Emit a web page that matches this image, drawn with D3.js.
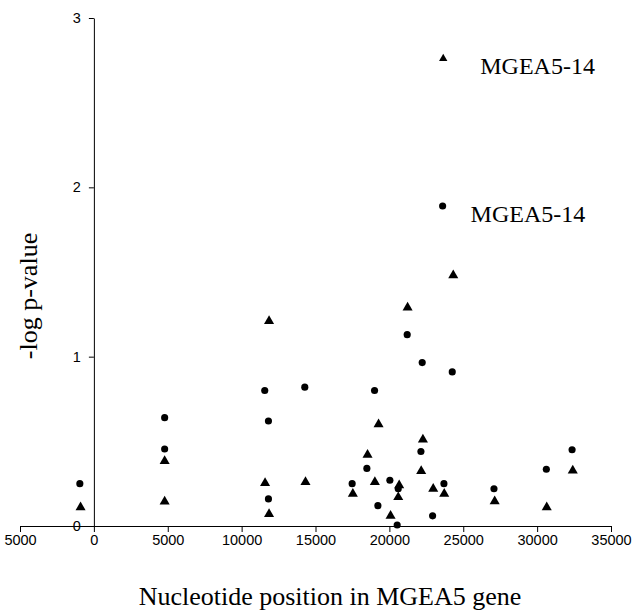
<!DOCTYPE html>
<html>
<head>
<meta charset="utf-8">
<script src="https://cdn.jsdelivr.net/npm/d3@7.9.0/dist/d3.min.js"></script>
<style>
  html, body { margin: 0; padding: 0; background: #fff; }
  .tick text { font-family: "Liberation Sans", Arial, sans-serif; font-size: 14.5px; fill: #000; }
  .axis-title, .note { font-family: "Liberation Serif", "Times New Roman", serif; fill: #000; }
</style>
</head>
<body>
<svg id="chart" width="633" height="611"></svg>
<script>
// ---- data ----
const circlePos = [-950, 4790, 4790, 11565, 11815, 11815, 14275, 17480, 18476, 18997, 19222,
  20034, 20600, 20528, 21206, 22135, 22222, 22926, 23604, 23693, 24255, 27080, 30623, 32366];
const circleVal = [0.25, 0.64, 0.455, 0.80, 0.62, 0.16, 0.82, 0.25, 0.34, 0.80, 0.12,
  0.27, 0.22, 0.006, 1.13, 0.44, 0.965, 0.06, 1.89, 0.25, 0.91, 0.22, 0.335, 0.45];

const trianglePos = [-900, 4790, 4790, 11587, 11857, 11857, 14322, 17528, 18523, 19018, 19268,
  20081, 20664, 20600, 21233, 22154, 22270, 22967, 23645, 23713, 24323, 27127, 30650, 32412];
const triangleVal = [0.11, 0.384, 0.144, 0.254, 1.21, 0.07, 0.26, 0.19, 0.42, 0.26, 0.60,
  0.06, 0.24, 0.17, 1.29, 0.325, 0.51, 0.22, 2.76, 0.19, 1.48, 0.146, 0.11, 0.327];

const xTicks = [-5000, 0, 5000, 10000, 15000, 20000, 25000, 30000, 35000];
const xTickLabels = ['5000', '0', '5000', '10000', '15000', '20000', '25000', '30000', '35000'];
const yTicks = [0, 1, 2, 3];

// labelled points: [series, index into that series, text]
const notes = [
  ['triangle', 18, 'MGEA5-14'],
  ['circle', 18, 'MGEA5-14'],
];

const xTitle = 'Nucleotide position in MGEA5 gene';
const yTitle = '-log p-value';

// ---- drawing ----
const svg = d3.select('#chart');

const x = d3.scaleLinear().domain([-5000, 35000]).range([20, 611]);
const y = d3.scaleLinear().domain([0, 3]).range([526, 18]);

// x axis (ticks pointing down)
svg.append('g')
  .attr('transform', `translate(0,${y(0)})`)
  .call(d3.axisBottom(x).tickValues(xTicks)
    .tickFormat((d, i) => xTickLabels[i])
    .tickSize(6).tickSizeOuter(0).tickPadding(3))
  .call(g => g.select('.domain').attr('stroke', '#000'))
  .call(g => g.selectAll('.tick line').attr('stroke', '#000'));

// y axis sits at x = 0
svg.append('g')
  .attr('transform', `translate(${x(0)},0)`)
  .call(d3.axisLeft(y).tickValues(yTicks).tickFormat(d3.format('d'))
    .tickSize(5).tickSizeOuter(0).tickPadding(8))
  .call(g => g.select('.domain').attr('stroke', '#000'))
  .call(g => g.selectAll('.tick line').attr('stroke', '#000'));

const circles = circlePos.map((p, i) => ({ pos: p, val: circleVal[i] }));
const triangles = trianglePos.map((p, i) => ({ pos: p, val: triangleVal[i] }));

svg.append('g').selectAll('path')
  .data(circles)
  .join('path')
  .attr('d', d3.symbol(d3.symbolCircle, 40))
  .attr('transform', d => `translate(${x(d.pos)},${y(d.val)})`)
  .attr('fill', '#000');

// the top triangle is drawn a little smaller in the original
svg.append('g').selectAll('path')
  .data(triangles)
  .join('path')
  .attr('d', (d, i) => d3.symbol(d3.symbolTriangle, i === 18 ? 30 : 44)())
  .attr('transform', d => `translate(${x(d.pos)},${y(d.val)})`)
  .attr('fill', '#000');

// point labels
const noteOffset = { triangle: [37, 15], circle: [28, 16] };
notes.forEach(([series, idx, txt]) => {
  const d = series === 'triangle' ? triangles[idx] : circles[idx];
  const [dx, dy] = noteOffset[series];
  svg.append('text')
    .attr('class', 'note')
    .attr('x', x(d.pos) + dx)
    .attr('y', y(d.val) + dy)
    .attr('font-size', 24)
    .text(txt);
});

// axis titles
svg.append('text')
  .attr('class', 'axis-title')
  .attr('x', 330).attr('y', 605)
  .attr('text-anchor', 'middle')
  .attr('font-size', 26)
  .text(xTitle);

svg.append('text')
  .attr('class', 'axis-title')
  .attr('transform', 'translate(37,296) rotate(-90)')
  .attr('text-anchor', 'middle')
  .attr('font-size', 26)
  .text(yTitle);
</script>
</body>
</html>
